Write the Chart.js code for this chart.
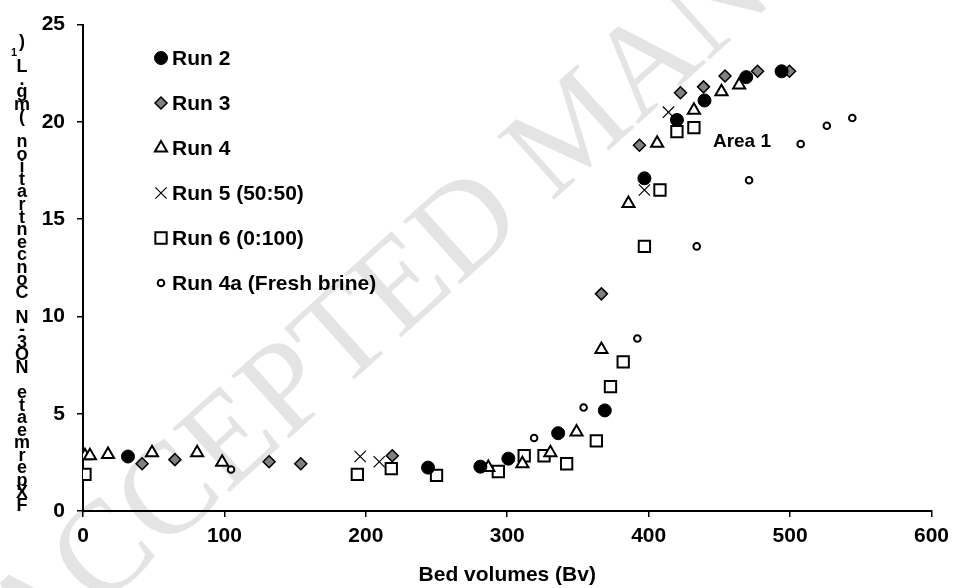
<!DOCTYPE html>
<html>
<head>
<meta charset="utf-8">
<script src="https://cdn.jsdelivr.net/npm/chart.js@4.4.1/dist/chart.umd.min.js"></script>
<style>
  html, body { margin: 0; padding: 0; background: #fff; }
  #wrap { width: 956px; height: 588px; }
</style>
</head>
<body>
<div id="wrap"><canvas id="chart" width="956" height="588"></canvas></div>
<script>
// breakthrough data (Bv, mg/L)
const run2X = [31.8, 244, 281, 300.8, 336, 369, 397, 420, 439.5, 469, 494];
const run2Y = [2.8, 2.23, 2.28, 2.69, 4.0, 5.17, 17.1, 20.1, 21.1, 22.3, 22.6];
const run3X = [41.8, 65, 131.6, 154, 218.7, 366.6, 393.5, 422.5, 438.8, 454, 477, 499.6];
const run3Y = [2.43, 2.64, 2.53, 2.43, 2.84, 11.16, 18.8, 21.5, 21.8, 22.36, 22.6, 22.6];
const run4X = [1.4, 4.9, 17.7, 48.8, 80.7, 98.4, 286.6, 310.7, 330.5, 349, 366.6, 385.7, 406, 432, 451.5, 464];
const run4Y = [2.84, 2.84, 2.9, 3.0, 3.0, 2.5, 2.23, 2.43, 2.99, 4.06, 8.3, 15.8, 18.9, 20.6, 21.55, 21.9];
const run5X = [196, 209.5, 397, 414];
const run5Y = [2.8, 2.53, 16.5, 20.5];
const run6X = [1.4, 194, 218, 250, 293.7, 312, 326, 342, 363, 373, 382, 397, 408, 420, 432];
const run6Y = [1.88, 1.88, 2.18, 1.83, 2.03, 2.84, 2.84, 2.43, 3.6, 6.39, 7.66, 13.6, 16.5, 19.5, 19.7];
const run4aX = [104.7, 319, 354, 392, 434, 471, 507.5, 526, 544];
const run4aY = [2.13, 3.75, 5.32, 8.87, 13.6, 17.0, 18.86, 19.8, 20.2];

const seriesNames = ['Run 2', 'Run 3', 'Run 4', 'Run 5 (50:50)', 'Run 6 (0:100)', 'Run 4a (Fresh brine)'];
const xTitle = 'Bed volumes (Bv)';
const yTitle = 'FXpermeate NO3-N Concentration (mg.L';  // read bottom-up as in the figure
const annotationText = 'Area 1';
const annotationAt = [466, 19.0];
const watermark = 'ACCEPTED MANUSCRIPT';

const FONT = '"Liberation Sans", Arial, sans-serif';

function pts(xs, ys) {
    return xs.map((x, i) => ({ x: x, y: ys[i] }));
}

// marker styles (same objects used for the legend)
const styles = [
    { pointStyle: 'circle', pointRadius: 6.5, pointBackgroundColor: '#000', pointBorderColor: '#000', pointBorderWidth: 1 },
    { pointStyle: 'rectRot', pointRadius: 6, pointBackgroundColor: '#808080', pointBorderColor: '#000', pointBorderWidth: 1.5 },
    { pointStyle: 'triangle', pointRadius: 7, pointBackgroundColor: '#fff', pointBorderColor: '#000', pointBorderWidth: 2 },
    { pointStyle: 'crossRot', pointRadius: 8, pointBackgroundColor: '#000', pointBorderColor: '#000', pointBorderWidth: 1.2 },
    { pointStyle: 'rect', pointRadius: 8, pointBackgroundColor: '#fff', pointBorderColor: '#000', pointBorderWidth: 2 },
    { pointStyle: 'circle', pointRadius: 3.3, pointBackgroundColor: '#fff', pointBorderColor: '#000', pointBorderWidth: 2 }
];
const allData = [pts(run2X, run2Y), pts(run3X, run3Y), pts(run4X, run4Y), pts(run5X, run5Y), pts(run6X, run6Y), pts(run4aX, run4aY)];

const datasets = allData.map((d, i) => Object.assign({
    label: seriesNames[i],
    data: d,
    showLine: false,
    pointHoverRadius: styles[i].pointRadius
}, styles[i]));

// watermark behind everything
const watermarkPlugin = {
    id: 'watermark',
    beforeDraw(chart) {
        const ctx = chart.ctx;
        ctx.save();
        ctx.translate(5, 648);
        ctx.rotate(-42 * Math.PI / 180);
        ctx.font = '130px "Liberation Serif", "Times New Roman", serif';
        ctx.fillStyle = '#e4e4e4';
        ctx.textBaseline = 'middle';
        ctx.textAlign = 'left';
        ctx.fillText(watermark, 0, 0);
        ctx.restore();
    }
};

// legend inside the plot, stacked y-title, "Area 1" label
const extrasPlugin = {
    id: 'extras',
    afterDraw(chart) {
        const ctx = chart.ctx;
        ctx.save();

        // legend
        const rowY = [58, 103, 148, 193, 238, 283];
        ctx.font = 'bold 21px ' + FONT;
        ctx.textBaseline = 'middle';
        ctx.textAlign = 'left';
        seriesNames.forEach((name, i) => {
            const s = styles[i];
            ctx.fillStyle = s.pointBackgroundColor;
            ctx.strokeStyle = s.pointBorderColor;
            ctx.lineWidth = s.pointBorderWidth;
            Chart.helpers.drawPoint(ctx, { pointStyle: s.pointStyle, radius: s.pointRadius, rotation: 0, borderWidth: s.pointBorderWidth }, 161, rowY[i]);
            ctx.fillStyle = '#000';
            ctx.fillText(name, 172, rowY[i] + 1);
        });

        // y title, characters stacked upright (reads bottom to top)
        const chars = yTitle.split('');
        const n = chars.length + 2;
        const yBottom = 506, yTop = 42;
        const step = (yBottom - yTop) / (n - 1);
        ctx.textAlign = 'center';
        ctx.font = 'bold 18px ' + FONT;
        chars.forEach((ch, i) => {
            ctx.fillText(ch, 22, yBottom - i * step);
        });
        ctx.font = 'bold 11px ' + FONT;
        ctx.fillText('1', 14, yBottom - chars.length * step - 2);
        ctx.font = 'bold 18px ' + FONT;
        ctx.fillText(')', 22, yBottom - (chars.length + 1) * step);

        // annotation
        const xs = chart.scales.x, ys = chart.scales.y;
        ctx.font = 'bold 19px ' + FONT;
        ctx.textAlign = 'center';
        ctx.fillText(annotationText, xs.getPixelForValue(annotationAt[0]), ys.getPixelForValue(annotationAt[1]));

        ctx.restore();
    }
};

new Chart(document.getElementById('chart'), {
    type: 'scatter',
    data: { datasets: datasets },
    options: {
        responsive: false,
        animation: false,
        devicePixelRatio: 1,
        layout: { padding: { left: 0, top: 21, right: 21, bottom: 0 } },
        plugins: {
            legend: { display: false },
            tooltip: { enabled: false }
        },
        scales: {
            x: {
                type: 'linear',
                min: 0,
                max: 600,
                afterFit(scale) { scale.height = 77; },
                ticks: {
                    stepSize: 100,
                    color: '#000',
                    font: { family: FONT, size: 21, weight: 'bold' },
                    padding: 7,
                    maxRotation: 0
                },
                grid: { drawOnChartArea: false, drawTicks: true, tickLength: 6, color: '#000', lineWidth: 1.5 },
                border: { color: '#000', width: 2 },
                title: {
                    display: true,
                    text: xTitle,
                    color: '#000',
                    font: { family: FONT, size: 21, weight: 'bold' },
                    padding: { top: 11, bottom: 0 }
                }
            },
            y: {
                min: 0,
                max: 25,
                afterFit(scale) { scale.width = 83; },
                ticks: {
                    stepSize: 5,
                    color: '#000',
                    font: { family: FONT, size: 21, weight: 'bold' },
                    padding: 12
                },
                grid: { drawOnChartArea: false, drawTicks: true, tickLength: 6, color: '#000', lineWidth: 1.5 },
                border: { color: '#000', width: 2 }
            }
        }
    },
    plugins: [watermarkPlugin, extrasPlugin]
});
</script>
</body>
</html>
